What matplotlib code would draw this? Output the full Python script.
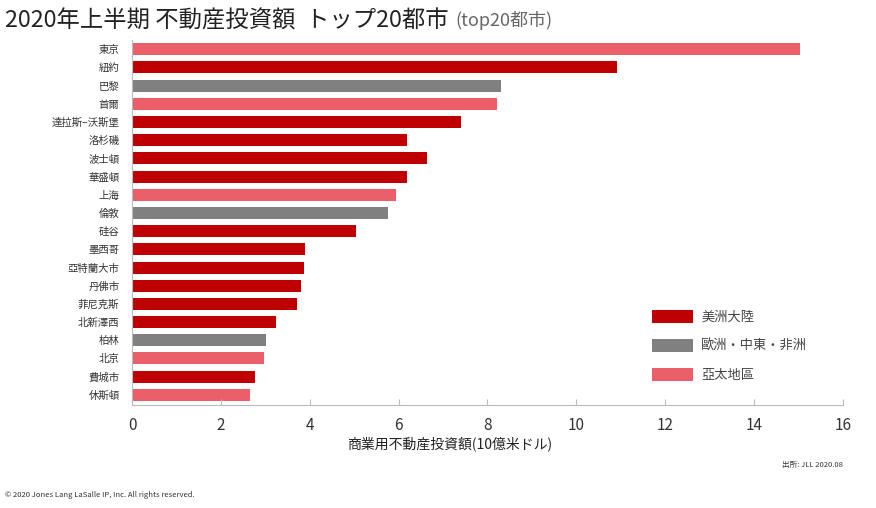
import matplotlib.pyplot as plt
from matplotlib.patches import Patch

plt.rcParams['font.family'] = ['Noto Sans CJK JP', 'DejaVu Sans']

# data (top to bottom)
cities = ['東京', '紐約', '巴黎', '首爾', '達拉斯–沃斯堡', '洛杉磯', '波士頓', '華盛頓',
          '上海', '倫敦', '硅谷', '墨西哥', '亞特蘭大市', '丹佛市', '菲尼克斯', '北新澤西',
          '柏林', '北京', '費城市', '休斯頓']
values = [15.03, 10.91, 8.30, 8.21, 7.40, 6.19, 6.64, 6.19,
          5.94, 5.76, 5.04, 3.89, 3.87, 3.80, 3.71, 3.24,
          3.02, 2.97, 2.77, 2.66]
regions = ['ap', 'am', 'eu', 'ap', 'am', 'am', 'am', 'am',
           'ap', 'eu', 'am', 'am', 'am', 'am', 'am', 'am',
           'eu', 'ap', 'am', 'ap']
region_names = {'am': '美洲大陸', 'eu': '歐洲・中東・非洲', 'ap': '亞太地區'}
colors = {'am': '#BE0000', 'eu': '#808080', 'ap': '#EA5F6A'}

fig = plt.figure(figsize=(8.76, 5.08), dpi=100)
ax = fig.add_axes([0.1507, 0.203, 0.8116, 0.718])

ypos = list(range(len(cities)))
ax.barh(ypos, values, height=0.66, color=[colors[r] for r in regions])
ax.set_yticks(ypos)
ax.set_yticklabels(cities, fontsize=7.5, color='#333333')
ax.set_ylim(19.55, -0.5)
ax.set_xlim(0, 16)
ax.set_xticks(range(0, 17, 2))
ax.tick_params(axis='x', direction='in', length=4, color='#bbbbbb', labelsize=11,
               labelcolor='#333333', pad=9)
ax.tick_params(axis='y', length=0, pad=9)
ax.set_xlabel('商業用不動産投資額(10億米ドル)', fontsize=10, color='#222222', labelpad=2)
ax.xaxis.set_label_coords(0.446, -0.085)

for s in ['top', 'right']:
    ax.spines[s].set_visible(False)
ax.spines['left'].set_color('#bbbbbb')
ax.spines['bottom'].set_color('#bbbbbb')

handles = [Patch(facecolor=colors[k], label=region_names[k]) for k in ['am', 'eu', 'ap']]
fig.legend(handles=handles, loc='upper left', bbox_to_anchor=(0.731, 0.413),
           frameon=False, fontsize=9.5, handlelength=3.1, handleheight=1.1,
           labelspacing=1.15, handletextpad=0.6, labelcolor='#444444')

fig.text(0.006, 0.982, '2020年上半期 不動産投資額  トップ20都市', fontsize=16.8,
         color='#222222', va='top', ha='left')
fig.text(0.52, 0.978, '(top20都市)', fontsize=13, color='#666666', va='top', ha='left')
fig.text(0.962, 0.08, '出所: JLL 2020.08', fontsize=5.5, color='#333333', ha='right')
fig.text(0.006, 0.022, '© 2020 Jones Lang LaSalle IP, Inc. All rights reserved.',
         fontsize=5.5, color='#333333', ha='left')

fig.savefig('out.png', dpi=100)
